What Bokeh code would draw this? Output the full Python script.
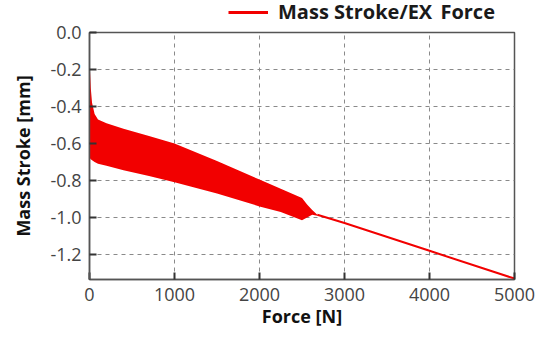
from bokeh.plotting import figure
from bokeh.models import (Range1d, FixedTicker, NumeralTickFormatter, Legend, LegendItem)
from bokeh.layouts import column
from bokeh.embed import file_html
from bokeh.resources import INLINE

# ---- data ----
band_force = [0, 5, 15, 30, 60, 100, 200, 400, 700, 1000, 1500, 2000, 2250, 2500, 2560, 2620, 2680]
band_upper = [0.0, -0.20, -0.30, -0.38, -0.44, -0.47, -0.49, -0.52, -0.56, -0.60, -0.695, -0.795, -0.845, -0.895, -0.93, -0.96, -0.985]
band_lower = [-0.66, -0.68, -0.685, -0.69, -0.70, -0.71, -0.72, -0.745, -0.775, -0.81, -0.87, -0.94, -0.97, -1.015, -1.00, -0.985, -0.99]

tail_force = [2680, 3000, 4000, 5000]
tail_stroke = [-0.985, -1.03, -1.18, -1.33]

x_ticks = [0, 1000, 2000, 3000, 4000, 5000]
y_ticks = [0.0, -0.2, -0.4, -0.6, -0.8, -1.0, -1.2]

series_label = "Mass Stroke/EX_Force"
x_label = "Force [N]"
y_label = "Mass Stroke [mm]"

RED = "#f20000"
FONT = "Open Sans"
W = 540
LEG_H = 21

# ---- main chart ----
p = figure(width=W, height=333 - LEG_H, output_backend="svg", toolbar_location=None,
           x_range=Range1d(0, 5000), y_range=Range1d(-1.335, 0.0),
           min_border_left=89, min_border_right=26, min_border_top=32 - LEG_H, min_border_bottom=54)

p.background_fill_color = "white"
p.border_fill_color = "white"
p.outline_line_color = "#555555"
p.outline_line_width = 1.5

band = p.varea(x=band_force, y1=band_upper, y2=band_lower, fill_color=RED)
tail = p.line(tail_force, tail_stroke, line_color=RED, line_width=2)

for ax in (p.xaxis[0], p.yaxis[0]):
    ax.axis_line_color = "#555555"
    ax.axis_line_width = 1.5
    ax.major_tick_in = 7
    ax.major_tick_out = 0
    ax.major_tick_line_color = "#333333"
    ax.major_tick_line_width = 2
    ax.minor_tick_line_color = None
    ax.major_label_text_font = FONT
    ax.major_label_text_font_size = "18px"
    ax.major_label_text_color = "#444444"
    ax.axis_label_text_font = FONT
    ax.axis_label_text_font_size = "18px"
    ax.axis_label_text_font_style = "bold"
    ax.axis_label_text_color = "#111111"

p.xaxis.ticker = FixedTicker(ticks=x_ticks)
p.yaxis.ticker = FixedTicker(ticks=y_ticks)
p.yaxis.formatter = NumeralTickFormatter(format="0.0")
p.xaxis.axis_label = x_label
p.yaxis.axis_label = y_label
p.xaxis.major_label_standoff = 8
p.yaxis.major_label_standoff = 8
p.xaxis.axis_label_standoff = 0
p.yaxis.axis_label_standoff = 12

p.xgrid.ticker = FixedTicker(ticks=x_ticks)
p.ygrid.ticker = FixedTicker(ticks=y_ticks)
for g in (p.xgrid[0], p.ygrid[0]):
    g.grid_line_color = "#8a8a8a"
    g.grid_line_dash = "4 4"
    g.grid_line_width = 1

# ---- legend strip above the chart (frame aligned with the chart's frame) ----
lf = figure(width=W, height=LEG_H, output_backend="svg", toolbar_location=None,
            x_range=Range1d(0, 1), y_range=Range1d(0, 1),
            x_axis_type=None, y_axis_type=None, min_border=0)
lf.outline_line_color = None
lf.xgrid.visible = False
lf.ygrid.visible = False
lf.background_fill_color = "white"
lf.border_fill_color = "white"
# proxy renderer (kept outside the visible range) that only supplies the legend swatch style
leg_r = lf.line(x=[-2, -1], y=[-2, -1], line_color=RED, line_width=3)

legend = Legend(items=[LegendItem(label=series_label, renderers=[leg_r])],
                location=(139, -4), orientation="horizontal",
                glyph_width=40, glyph_height=18, label_standoff=10,
                label_text_font=FONT, label_text_font_size="20px",
                label_text_font_style="bold", label_text_color="#1a1a1a",
                background_fill_alpha=0, border_line_color=None,
                padding=0, margin=0, spacing=0)
lf.add_layout(legend, "center")

layout = column(lf, p, spacing=0)
open("out.html", "w").write(file_html(layout, INLINE))
